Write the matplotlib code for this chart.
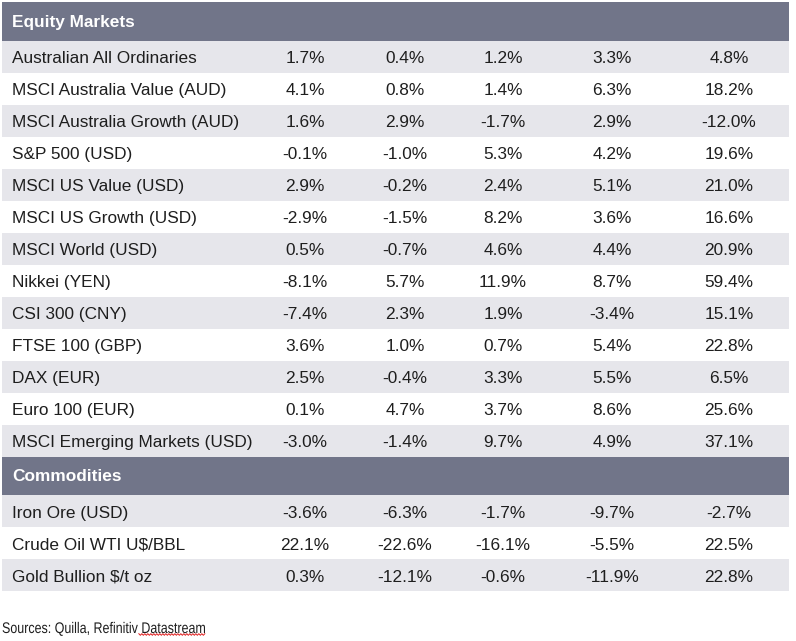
import matplotlib
matplotlib.use("Agg")
import matplotlib.pyplot as plt
import numpy as np
from matplotlib.textpath import TextPath
from matplotlib.patches import PathPatch
from matplotlib.font_manager import FontProperties
from matplotlib.transforms import Affine2D

# table contents
equity_names = [
    "Australian All Ordinaries", "MSCI Australia Value (AUD)", "MSCI Australia Growth (AUD)",
    "S&P 500 (USD)", "MSCI US Value (USD)", "MSCI US Growth (USD)", "MSCI World (USD)",
    "Nikkei (YEN)", "CSI 300 (CNY)", "FTSE 100 (GBP)", "DAX (EUR)", "Euro 100 (EUR)",
    "MSCI Emerging Markets (USD)",
]
equity_values = [
    [1.7, 0.4, 1.2, 3.3, 4.8],
    [4.1, 0.8, 1.4, 6.3, 18.2],
    [1.6, 2.9, -1.7, 2.9, -12.0],
    [-0.1, -1.0, 5.3, 4.2, 19.6],
    [2.9, -0.2, 2.4, 5.1, 21.0],
    [-2.9, -1.5, 8.2, 3.6, 16.6],
    [0.5, -0.7, 4.6, 4.4, 20.9],
    [-8.1, 5.7, 11.9, 8.7, 59.4],
    [-7.4, 2.3, 1.9, -3.4, 15.1],
    [3.6, 1.0, 0.7, 5.4, 22.8],
    [2.5, -0.4, 3.3, 5.5, 6.5],
    [0.1, 4.7, 3.7, 8.6, 25.6],
    [-3.0, -1.4, 9.7, 4.9, 37.1],
]
commodity_names = ["Iron Ore (USD)", "Crude Oil WTI U$/BBL", "Gold Bullion $/t oz"]
commodity_values = [
    [-3.6, -6.3, -1.7, -9.7, -2.7],
    [22.1, -22.6, -16.1, -5.5, 22.5],
    [0.3, -12.1, -0.6, -11.9, 22.8],
]
sections = [("Equity Markets", equity_names, equity_values),
            ("Commodities", commodity_names, commodity_values)]
source_text = "Sources: Quilla, Refinitiv "
source_word = "Datastream"

# layout (pixels)
W, H = 796, 641
left, right = 2, 789
top = 2
head_h = 38.5
row_h = 32.0
col_x = [305, 405, 503, 612, 729]
header_color = "#717589"
stripe_color = "#e6e6eb"
text_color = "#1e1e1e"
fs = 12.4

fig = plt.figure(figsize=(W / 100, H / 100), dpi=100)
ax = fig.add_axes([0, 0, 1, 1])
ax.set_xlim(0, W)
ax.set_ylim(H, 0)
ax.axis("off")

font = ["Liberation Sans", "DejaVu Sans"]
y = top
for title, names, values in sections:
    ax.add_patch(plt.Rectangle((left, y), right - left, head_h, color=header_color, lw=0))
    ax.text(12, y + 24.5, title, color="white", fontsize=fs, fontweight="bold",
            family=font, va="baseline", ha="left")
    y += head_h
    for i, (name, vals) in enumerate(zip(names, values)):
        if i % 2 == 0:
            ax.add_patch(plt.Rectangle((left, y), right - left, row_h, color=stripe_color, lw=0))
        by = y + 22.6
        ax.text(12, by, name, color=text_color, fontsize=fs, family=font,
                va="baseline", ha="left")
        for cx, v in zip(col_x, vals):
            ax.text(cx, by, f"{v:.1f}%", color=text_color, fontsize=fs, family=font,
                    va="baseline", ha="center")
        y += row_h

# source note: narrow look by squeezing the glyph outlines
prop = FontProperties(family="Liberation Sans")
em = 15.4
sx = 0.81
sx0, sy0 = 2, 633
full = source_text + source_word
tp = TextPath((0, 0), full, size=em, prop=prop)
tr = Affine2D().scale(sx, -1).translate(sx0, sy0) + ax.transData
ax.add_patch(PathPatch(tp, transform=tr, color=text_color, lw=0))

pre_w = TextPath((0, 0), source_text, size=em, prop=prop).get_extents().x1
full_w = tp.get_extents().x1
xa = sx0 + sx * pre_w + 1
xb = sx0 + sx * full_w
# spell-check squiggle under the last word
wx = np.arange(xa, xb, 1.5)
wy = 634.5 + 0.8 * ((np.arange(len(wx)) % 2) * 2 - 1)
ax.plot(wx, wy, color="#e02020", lw=0.7)

fig.savefig("out.png", dpi=100)
